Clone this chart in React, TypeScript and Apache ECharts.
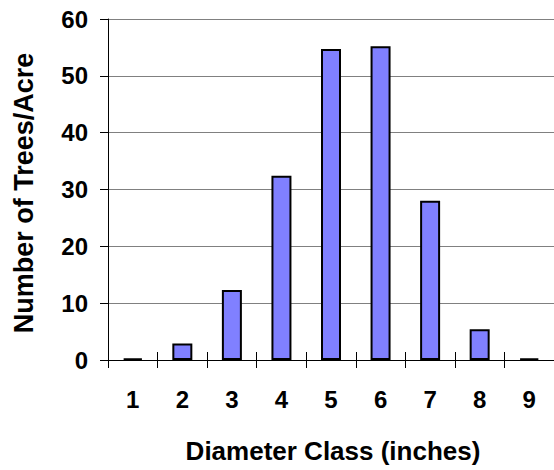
import React, { useEffect, useRef } from "react";
import * as echarts from "echarts";

const categories = ["1", "2", "3", "4", "5", "6", "7", "8", "9"];
const treesPerAcre = [0.3, 2.9, 12.3, 32.4, 54.7, 55.2, 28.0, 5.4, 0.3];
const yTicks = [0, 10, 20, 30, 40, 50, 60];
const xTitle = "Diameter Class (inches)";
const yTitle = "Number of Trees/Acre";

const FONT = "'Liberation Sans', Arial, sans-serif";

export default function App() {
  const ref = useRef<HTMLDivElement>(null);
  useEffect(() => {
    if (!ref.current) return;
    const chart = echarts.init(ref.current, undefined, { renderer: "svg" });
    chart.setOption({
      animation: false,
      backgroundColor: "#ffffff",
      grid: { left: 108, top: 19, width: 450, height: 341, containLabel: false },
      xAxis: [
        {
          type: "category",
          data: categories,
          position: "bottom",
          axisLine: { lineStyle: { color: "#000", width: 1 } },
          axisTick: { show: true, inside: false, length: 8, lineStyle: { color: "#000" } },
          axisLabel: {
            margin: 27,
            fontSize: 24,
            fontWeight: "bold",
            fontFamily: FONT,
            color: "#000",
          },
          splitLine: { show: false },
        },
        {
          type: "category",
          data: categories,
          position: "bottom",
          axisLine: { show: false },
          axisTick: { show: true, inside: true, length: 8, lineStyle: { color: "#000" } },
          axisLabel: { show: false },
          splitLine: { show: false },
        },
      ],
      yAxis: {
        type: "value",
        min: yTicks[0],
        max: yTicks[yTicks.length - 1],
        interval: 10,
        axisLine: { show: true, lineStyle: { color: "#000", width: 1 } },
        axisTick: { show: true, inside: false, length: 8, lineStyle: { color: "#000" } },
        axisLabel: {
          margin: 20,
          fontSize: 24,
          fontWeight: "bold",
          fontFamily: FONT,
          color: "#000",
        },
        splitLine: { show: true, lineStyle: { color: "#808080", width: 1 } },
      },
      series: [
        {
          type: "bar",
          data: treesPerAcre,
          xAxisIndex: 0,
          barWidth: 20,
          itemStyle: { color: "#8080FF", borderColor: "#000", borderWidth: 2 },
        },
      ],
      graphic: [
        {
          type: "text",
          x: 333,
          y: 451,
          style: {
            text: xTitle,
            font: `bold 26px ${FONT}`,
            fill: "#000",
            textAlign: "center",
            textVerticalAlign: "middle",
          },
        },
        {
          type: "text",
          x: 24,
          y: 193,
          rotation: Math.PI / 2,
          style: {
            text: yTitle,
            font: `bold 27px ${FONT}`,
            fill: "#000",
            textAlign: "center",
            textVerticalAlign: "middle",
          },
        },
      ],
    });
    return () => chart.dispose();
  }, []);
  return (
    <div
      ref={ref}
      style={{ position: "absolute", left: 0, top: 0, width: 554, height: 470 }}
    />
  );
}
